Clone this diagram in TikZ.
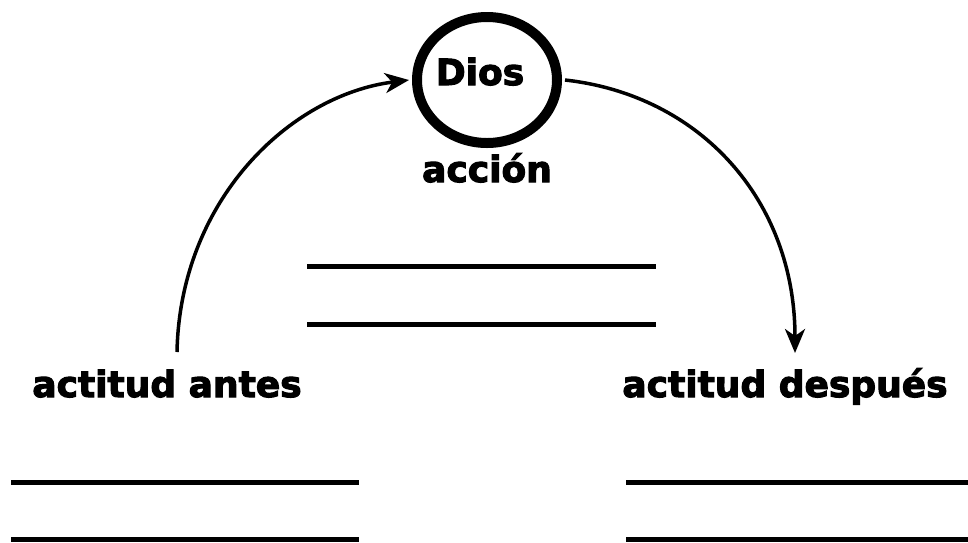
\documentclass[tikz,border=0pt]{standalone}
\usepackage{fontspec}
\setmainfont{DejaVu Sans}[BoldFeatures={FakeBold=3}]
\usetikzlibrary{arrows.meta,shapes.geometric}
\begin{document}
\begin{tikzpicture}[x=1pt,y=-1pt,
  lbl/.style={inner sep=0pt,anchor=base,font=\bfseries\fontsize{36}{40}\selectfont},
  blank/.style={line width=5pt},
  flow/.style={line width=3.5pt,-{Stealth[length=24pt,width=20pt,inset=7pt]}}]
\useasboundingbox (0,0) rectangle (968,542);
\node[ellipse,draw,line width=10pt,minimum width=140pt,minimum height=126pt,inner sep=0pt] (dios) at (487,80) {};
\node[lbl] (diostxt) at (480,85) {Dios};
\node[lbl] (accion) at (487,182) {acción};
\node[lbl] (antes) at (167,397) {actitud antes};
\node[lbl] (despues) at (785,397) {actitud después};
\coordinate (s1) at (177,352);
\coordinate (e2) at (795,353);
\draw[flow] (s1) .. controls (180,200) and (290,95) .. ([xshift=-3pt]dios.west);
\draw[flow] ([xshift=3pt]dios.east) .. controls (700,95) and (795,200) .. (e2);
\coordinate (m1a) at (307,266); \coordinate (m1b) at (656,266);
\coordinate (m2a) at (307,324); \coordinate (m2b) at (656,324);
\coordinate (l1a) at (11,482); \coordinate (l1b) at (359,482);
\coordinate (l2a) at (11,539); \coordinate (l2b) at (359,539);
\coordinate (r1a) at (626,482); \coordinate (r1b) at (968,482);
\coordinate (r2a) at (626,539); \coordinate (r2b) at (968,539);
\draw[blank] (m1a) -- (m1b);
\draw[blank] (m2a) -- (m2b);
\draw[blank] (l1a) -- (l1b);
\draw[blank] (l2a) -- (l2b);
\draw[blank] (r1a) -- (r1b);
\draw[blank] (r2a) -- (r2b);
\end{tikzpicture}
\end{document}
